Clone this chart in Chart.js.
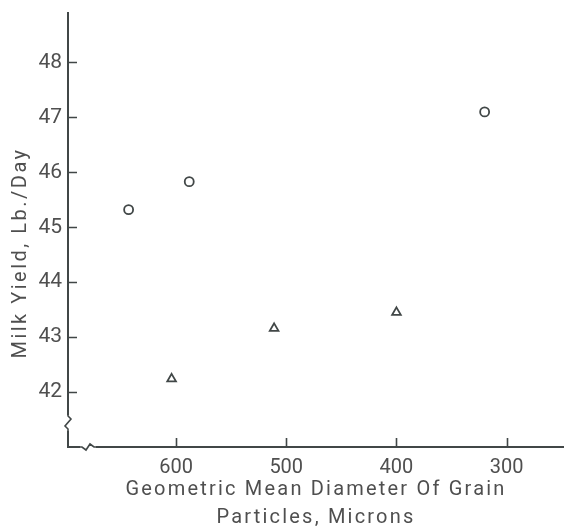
<!DOCTYPE html>
<html><head><meta charset="utf-8">
<script src="https://cdn.jsdelivr.net/npm/chart.js@4/dist/chart.umd.min.js"></script>
<style>html,body{margin:0;padding:0;background:#fff}#wrap{width:564px;height:528px}</style>
</head><body><div id="wrap"><canvas id="c" width="564" height="528"></canvas></div>
<script>
const xTickValues = [600, 500, 400, 300];
const yTickValues = [42, 43, 44, 45, 46, 47, 48];
const circleX = [643, 588, 320];
const circleY = [45.32, 45.83, 47.1];
const triangleX = [604, 511, 400];
const triangleY = [42.24, 43.16, 43.45];
const xTitleLines = ['Geometric Mean Diameter Of Grain', 'Particles, Microns'];
const yTitle = 'Milk Yield, Lb./Day';

const INK = '#414747';
const TXT = '#4f4f4f';

const titlesPlugin = {
  id: 'titles',
  afterDraw(chart) {
    const ctx = chart.ctx, a = chart.chartArea;
    ctx.save();
    ctx.fillStyle = TXT;
    ctx.font = '20px Roboto';
    ctx.letterSpacing = '2.2px';
    ctx.textAlign = 'center';
    ctx.textBaseline = 'middle';
    const cx = (a.left + a.right) / 2;
    ctx.fillText(xTitleLines[0], cx, a.bottom + 43);
    ctx.fillText(xTitleLines[1], cx, a.bottom + 71);
    ctx.letterSpacing = '2.5px';
    ctx.translate(21, a.top + 240);
    ctx.rotate(-Math.PI / 2);
    ctx.fillText(yTitle, 0, 0);
    ctx.restore();
  }
};

const marksPlugin = {
  id: 'marks',
  afterDraw(chart) {
    const ctx = chart.ctx, a = chart.chartArea;
    const xs = chart.scales.x, ys = chart.scales.y;
    ctx.save();
    ctx.strokeStyle = INK;
    ctx.lineWidth = 1.6;
    // inward tick marks
    ctx.beginPath();
    xTickValues.forEach(v => {
      const px = Math.round(xs.getPixelForValue(v)) + 0.5;
      ctx.moveTo(px, a.bottom);
      ctx.lineTo(px, a.bottom - 9);
    });
    yTickValues.forEach(v => {
      const py = Math.round(ys.getPixelForValue(v)) + 0.5;
      ctx.moveTo(a.left, py);
      ctx.lineTo(a.left + 9, py);
    });
    ctx.stroke();
    // y-axis break
    const bx = a.left, by = a.bottom - 24;
    ctx.fillStyle = '#fff';
    ctx.fillRect(bx - 3, by - 8, 6, 16);
    ctx.beginPath();
    ctx.moveTo(bx, by - 9);
    ctx.lineTo(bx, by - 7);
    ctx.lineTo(bx + 3, by - 4);
    ctx.lineTo(bx - 3, by + 3);
    ctx.lineTo(bx, by + 6);
    ctx.lineTo(bx, by + 9);
    ctx.stroke();
    // x-axis break
    const xx = a.left + 20, xy = a.bottom;
    ctx.fillRect(xx - 8, xy - 3, 16, 6);
    ctx.beginPath();
    ctx.moveTo(xx - 9, xy);
    ctx.lineTo(xx - 6, xy);
    ctx.lineTo(xx - 2, xy + 3);
    ctx.lineTo(xx + 2, xy - 3);
    ctx.lineTo(xx + 6, xy);
    ctx.lineTo(xx + 9, xy);
    ctx.stroke();
    ctx.restore();
  }
};

new Chart(document.getElementById('c'), {
  type: 'scatter',
  data: {
    datasets: [
      {
        label: 'circles',
        data: circleX.map((x, i) => ({ x, y: circleY[i] })),
        pointStyle: 'circle',
        pointRadius: 4.5,
        borderColor: INK,
        backgroundColor: '#fff',
        borderWidth: 1.8
      },
      {
        label: 'triangles',
        data: triangleX.map((x, i) => ({ x, y: triangleY[i] })),
        pointStyle: 'triangle',
        pointRadius: 5,
        borderColor: INK,
        backgroundColor: '#fff',
        borderWidth: 1.8
      }
    ]
  },
  options: {
    responsive: false,
    animation: false,
    layout: { autoPadding: false, padding: { top: 13, right: 0, left: 0, bottom: 0 } },
    plugins: { legend: { display: false }, tooltip: { enabled: false } },
    scales: {
      x: {
        type: 'linear',
        reverse: true,
        min: 248,
        max: 698,
        afterBuildTicks: s => { s.ticks = xTickValues.map(v => ({ value: v })); },
        afterFit: s => { s.height = 81; s.paddingLeft = 0; s.paddingRight = 0; },
        grid: { display: false, drawOnChartArea: false, drawTicks: false },
        border: { display: true, color: INK, width: 2 },
        ticks: { padding: 9, color: TXT, font: { family: 'Roboto', size: 20 }, maxRotation: 0 }
      },
      y: {
        type: 'linear',
        min: 41,
        max: 48.9,
        afterBuildTicks: s => { s.ticks = yTickValues.map(v => ({ value: v })); },
        afterFit: s => { s.width = 68; s.paddingTop = 0; s.paddingBottom = 0; },
        grid: { display: false, drawOnChartArea: false, drawTicks: false },
        border: { display: true, color: INK, width: 2 },
        ticks: { padding: 6, color: TXT, font: { family: 'Roboto', size: 21 } }
      }
    }
  },
  plugins: [titlesPlugin, marksPlugin]
});
</script>
</body></html>
